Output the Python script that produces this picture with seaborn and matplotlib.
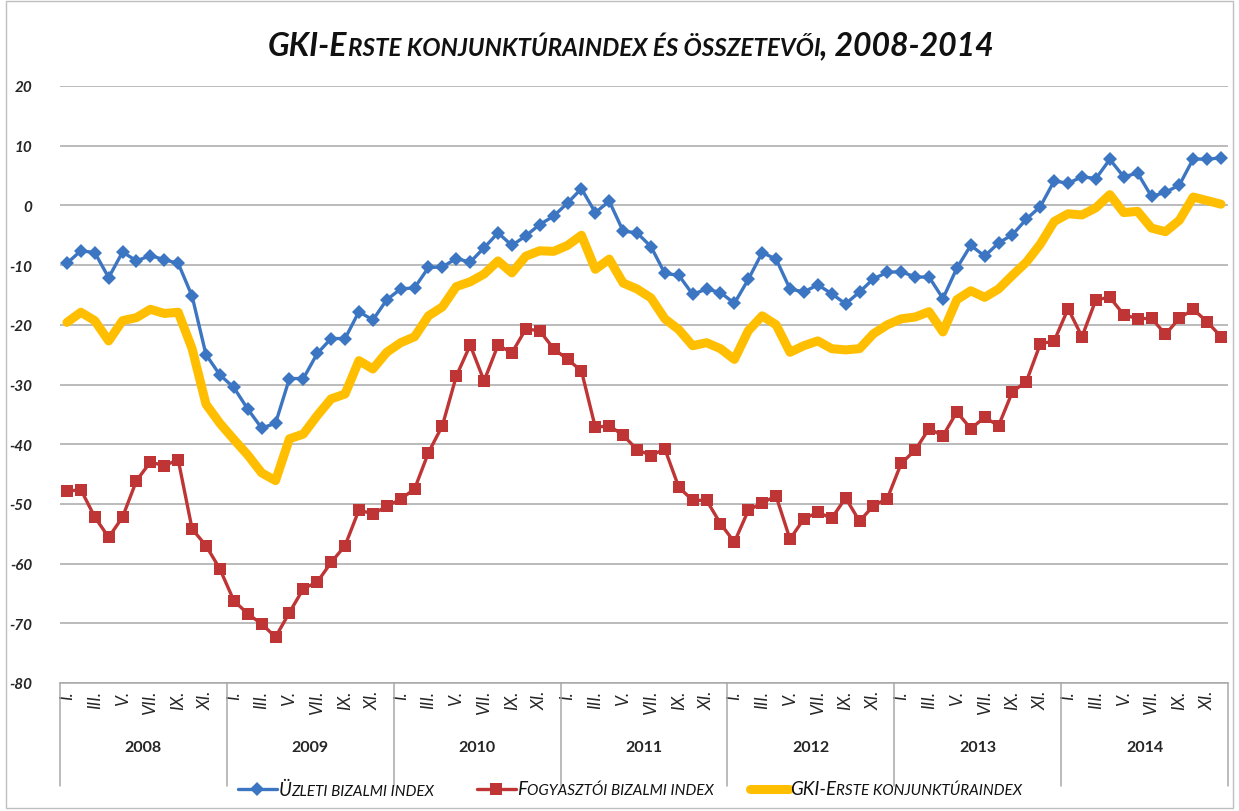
import numpy as np
import pandas as pd
import matplotlib.pyplot as plt
from matplotlib.lines import Line2D
from matplotlib.patches import Rectangle
from matplotlib.offsetbox import TextArea, HPacker, DrawingArea, AnchoredOffsetbox
import seaborn as sns

# ======================
# Data
# ======================
years = ["2008", "2009", "2010", "2011", "2012", "2013", "2014"]
month_labels = ["I.", "", "III.", "", "V.", "", "VII.", "", "IX.", "", "XI.", ""]

uzleti = [
    -9.7, -7.6, -7.9, -12.1, -7.8, -9.3, -8.4, -9.1, -9.7, -15.2, -25.0, -28.4,
    -30.5, -34.1, -37.3, -36.5, -29.0, -29.0, -24.8, -22.3, -22.3, -17.8, -19.2, -15.8,
    -14.0, -13.8, -10.4, -10.3, -8.9, -9.5, -7.1, -4.6, -6.7, -5.1, -3.2, -1.8,
    0.4, 2.8, -1.2, 0.7, -4.3, -4.6, -6.9, -11.4, -11.7, -14.9, -14.0, -14.6,
    -16.4, -12.4, -7.9, -9.0, -14.0, -14.5, -13.3, -14.8, -16.5, -14.5, -12.3, -11.2,
    -11.1, -12.0, -12.0, -15.6, -10.5, -6.7, -8.5, -6.3, -4.9, -2.3, -0.2, 4.1,
    3.7, 4.8, 4.5, 7.7, 4.8, 5.4, 1.5, 2.2, 3.4, 7.8, 7.7, 8.0,
]
fogyasztoi = [
    -47.9, -47.6, -52.2, -55.6, -52.2, -46.1, -43.0, -43.6, -42.6, -54.2, -57.0, -60.9,
    -66.2, -68.4, -70.1, -72.3, -68.2, -64.2, -63.1, -59.8, -57.0, -51.0, -51.7, -50.4,
    -49.2, -47.5, -41.4, -36.9, -28.6, -23.4, -29.4, -23.4, -24.7, -20.7, -21.0, -24.0,
    -25.8, -27.7, -37.2, -36.9, -38.5, -40.9, -41.9, -40.8, -47.2, -49.4, -49.4, -53.3,
    -56.4, -51.1, -49.8, -48.7, -55.9, -52.5, -51.4, -52.4, -49.0, -52.9, -50.3, -49.1,
    -43.2, -41.0, -37.4, -38.6, -34.6, -37.4, -35.5, -36.9, -31.2, -29.5, -23.2, -22.7,
    -17.3, -22.0, -15.8, -15.4, -18.3, -19.0, -18.9, -21.6, -18.9, -17.4, -19.5, -22.0,
]
gki_erste = [
    -19.6, -17.9, -19.3, -22.7, -19.3, -18.8, -17.4, -18.1, -17.9, -24.0, -33.3, -36.5,
    -39.2, -41.8, -44.8, -46.1, -39.1, -38.3, -35.2, -32.4, -31.6, -26.0, -27.4, -24.6,
    -23.0, -22.0, -18.5, -17.0, -13.6, -12.8, -11.5, -9.3, -11.3, -8.5, -7.6, -7.7,
    -6.7, -5.0, -10.7, -9.0, -13.0, -14.0, -15.5, -19.0, -20.8, -23.5, -23.0, -24.0,
    -25.8, -21.0, -18.5, -20.0, -24.6, -23.5, -22.7, -24.0, -24.2, -24.0, -21.5, -20.0,
    -19.0, -18.7, -17.8, -21.2, -15.8, -14.3, -15.4, -14.0, -11.7, -9.5, -6.5, -2.7,
    -1.4, -1.6, -0.4, 1.8, -1.2, -1.0, -3.8, -4.4, -2.5, 1.4, 0.8, 0.2,
]

ytick_vals = [20, 10, 0, -10, -20, -30, -40, -50, -60, -70, -80]
ytick_labels = ["20", "10", "0", "-10", "-20", "-30", "-40", "-50", "-60", "-70", "-80"]

# small caps: (large part, small part)
legend_parts = [("Ü", "ZLETI BIZALMI INDEX"),
                ("F", "OGYASZTÓI BIZALMI INDEX"),
                ("GKI-E", "RSTE KONJUNKTÚRAINDEX")]
title_parts = [("GKI-E", "big"), ("RSTE KONJUNKTÚRAINDEX ÉS ÖSSZETEVŐI", "small"),
               (", 2008-2014", "big")]

BLUE = "#3C76C3"
RED = "#BF3535"
GOLD = "#FFBF00"
GRID = "#A8A8A8"
TXT = "#111111"

df = pd.DataFrame({
    "t": np.arange(len(uzleti)),
    "uzleti": uzleti,
    "fogyasztoi": fogyasztoi,
    "gki": gki_erste,
})

# ======================
# Figure
# ======================
sns.set_style("white")
plt.rcParams["font.family"] = ["Lato", "DejaVu Sans"]

fig = plt.figure(figsize=(12.39, 8.12), dpi=100)
ax = fig.add_axes([60 / 1239, 1 - 684 / 812, (1228 - 60) / 1239, (684 - 87) / 812])

styles = [
    dict(color=BLUE, linewidth=2.4, marker="D", markersize=7.5, markeredgewidth=0),
    dict(color=RED, linewidth=2.4, marker="s", markersize=8.5, markeredgewidth=0),
    dict(color=GOLD, linewidth=6.5, solid_joinstyle="round", solid_capstyle="round"),
]
for col, st, z in zip(["uzleti", "fogyasztoi", "gki"], styles, [3, 3, 4]):
    sns.lineplot(data=df, x="t", y=col, ax=ax, zorder=z, legend=False, **st)

ax.set_xlim(-0.5, len(uzleti) - 0.5)
ax.set_ylim(-80, 20)
ax.set_xlabel("")
ax.set_ylabel("")

# y axis
ax.set_yticks(ytick_vals)
ax.set_yticklabels(ytick_labels, fontsize=11, fontweight="bold", style="italic")
ax.tick_params(axis="y", length=0, pad=20)
ax.yaxis.grid(True, color=GRID, linewidth=1.1)
ax.set_axisbelow(True)

for side in ["left", "top", "right"]:
    ax.spines[side].set_visible(False)
ax.spines["bottom"].set_color(GRID)
ax.spines["bottom"].set_linewidth(1.1)

# month tick labels
pos, labs = [], []
for k in range(len(years)):
    for m, lab in enumerate(month_labels):
        if lab:
            pos.append(12 * k + m)
            labs.append(lab)
ax.set_xticks(pos)
ax.set_xticklabels(labs, rotation=90, fontsize=12.5, style="italic")
ax.tick_params(axis="x", length=0, pad=5)

# year labels and separators
trans = ax.get_xaxis_transform()
for k, yr in enumerate(years):
    ax.text(12 * k + 5.5, -0.107, yr, transform=trans, ha="center", va="center",
            fontsize=11.5, fontweight="bold")
for k in range(len(years) + 1):
    ax.plot([12 * k - 0.5, 12 * k - 0.5], [0, -0.1725], transform=trans,
            color=GRID, linewidth=1.1, clip_on=False)


def caps_box(parts, big, small, **kw):
    kids = []
    for txt, size in parts:
        fs = big if size == "big" else small
        kids.append(TextArea(txt, textprops=dict(fontsize=fs, color=TXT, **kw)))
    return HPacker(children=kids, align="baseline", pad=0, sep=0)


# legend (custom, to keep the small-caps labels)
legend_x = [238, 477, 750]
for (big_txt, small_txt), st, x0 in zip(legend_parts, styles, legend_x):
    da = DrawingArea(28, 10, 0, 0)
    line_kw = {k: v for k, v in st.items() if k not in ("marker", "markersize", "markeredgewidth")}
    da.add_artist(Line2D([0, 28], [5, 5], **line_kw))
    if "marker" in st:
        da.add_artist(Line2D([14], [5], color=st["color"], marker=st["marker"],
                             markersize=st["markersize"], markeredgewidth=0, linestyle="none"))
    txt = caps_box([(big_txt, "big"), (small_txt, "small")], 13.5, 11, style="italic")
    entry = HPacker(children=[da, txt], align="center", pad=0, sep=1)
    fig.add_artist(AnchoredOffsetbox(loc="center left", child=entry, frameon=False, pad=0,
                                     borderpad=0, bbox_to_anchor=(x0 / 1239, 1 - 790 / 812),
                                     bbox_transform=fig.transFigure))

# title (small caps look)
title_box = caps_box(title_parts, 23, 17.5, style="italic", fontweight="bold")
fig.add_artist(AnchoredOffsetbox(loc="center", child=title_box, frameon=False, pad=0,
                                 borderpad=0, bbox_to_anchor=(631 / 1239, 1 - 46 / 812),
                                 bbox_transform=fig.transFigure))

# outer frame
fig.patches.append(Rectangle((0.005, 0.004), 0.99, 0.993, transform=fig.transFigure,
                             fill=False, edgecolor="#BFBFBF", linewidth=1))

plt.savefig("out.png", dpi=100)
